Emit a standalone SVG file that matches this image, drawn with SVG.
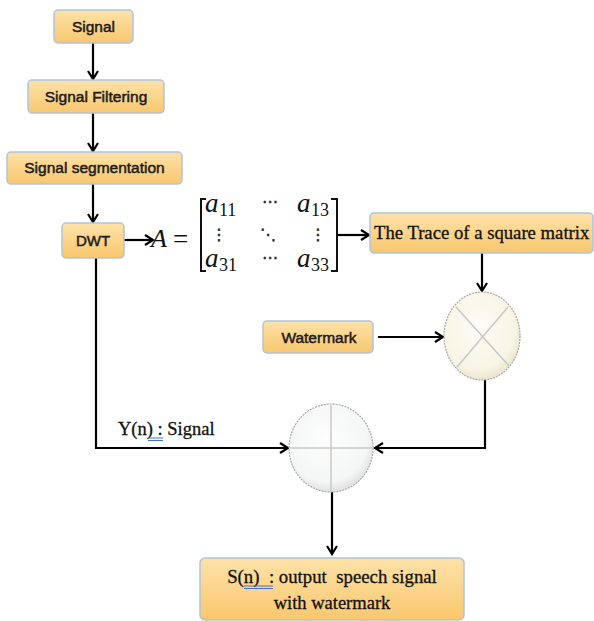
<svg xmlns="http://www.w3.org/2000/svg" width="594" height="621" viewBox="0 0 594 621">
<defs>
<linearGradient id="boxFill" x1="0" y1="0" x2="0" y2="1">
<stop offset="0" stop-color="#FEE2A8"/>
<stop offset="1" stop-color="#F8C76E"/>
</linearGradient>
<radialGradient id="creamFill" cx="0.45" cy="0.4" r="0.6">
<stop offset="0" stop-color="#FDFCF6"/>
<stop offset="0.8" stop-color="#F8F5E6"/>
<stop offset="1" stop-color="#ECE6CC"/>
</radialGradient>
<radialGradient id="greyFill" cx="0.45" cy="0.4" r="0.6">
<stop offset="0" stop-color="#FDFDFD"/>
<stop offset="0.8" stop-color="#F5F6F6"/>
<stop offset="1" stop-color="#E2E2E2"/>
</radialGradient>
<marker id="arr" markerWidth="12" markerHeight="12" refX="10" refY="6" orient="auto" markerUnits="userSpaceOnUse">
<path d="M2,1 L10,6 L2,11" fill="none" stroke="#000" stroke-width="2.2"/>
</marker>
</defs>
<style>
.box{fill:url(#boxFill);stroke:#AFC3E0;stroke-width:1.5}
.sans{font-family:"Liberation Sans",Arial,sans-serif;font-size:15.5px;fill:#1c1c1c;stroke:#1c1c1c;stroke-width:0.5;text-anchor:middle}
.serif{font-family:"Liberation Serif","Times New Roman",serif;fill:#111;stroke:#111;stroke-width:0.3}
.math{font-family:"Liberation Serif","DejaVu Serif",serif;font-style:italic;fill:#111}
.sub{font-family:"Liberation Serif","DejaVu Serif",serif;font-size:18px;fill:#111}
.dots{font-family:"DejaVu Sans",sans-serif;font-size:16px;fill:#222;stroke:#222;stroke-width:0.4;text-anchor:middle}
.conn{fill:none;stroke:#000;stroke-width:2.2}
.guide{stroke:#C8C8C4;stroke-width:1.5}
.uline{stroke:#4472C4;stroke-width:1}
</style>

<g id="connectors">
<line class="conn" x1="93" y1="43" x2="93" y2="79" marker-end="url(#arr)"/>
<line class="conn" x1="93" y1="113" x2="93" y2="151" marker-end="url(#arr)"/>
<line class="conn" x1="93" y1="184" x2="93" y2="222" marker-end="url(#arr)"/>
<line class="conn" x1="124" y1="240" x2="153" y2="240" marker-end="url(#arr)"/>
<line class="conn" x1="337" y1="235" x2="369" y2="235" marker-end="url(#arr)"/>
<line class="conn" x1="482" y1="253" x2="482" y2="291" marker-end="url(#arr)"/>
<line class="conn" x1="378" y1="337" x2="443" y2="337" marker-end="url(#arr)"/>
<path class="conn" d="M96,258 V448 H288" marker-end="url(#arr)"/>
<path class="conn" d="M485,380 V448 H375" marker-end="url(#arr)"/>
<line class="conn" x1="332" y1="492" x2="332" y2="554" marker-end="url(#arr)"/>
</g>

<g id="signal">
<rect class="box" x="54" y="10" width="79" height="33" rx="4"/>
<text class="sans" x="93.5" y="32">Signal</text>
</g>
<g id="signal-filtering">
<rect class="box" x="28" y="80" width="136" height="33" rx="4"/>
<text class="sans" x="96" y="102">Signal Filtering</text>
</g>
<g id="signal-segmentation">
<rect class="box" x="7" y="152" width="175" height="32" rx="4"/>
<text class="sans" x="94.5" y="173">Signal segmentation</text>
</g>
<g id="dwt">
<rect class="box" x="62" y="223" width="62" height="35" rx="4"/>
<text class="sans" x="93" y="246" style="font-size:15px">DWT</text>
</g>

<g id="matrix">
<text class="math" x="151" y="247" style="font-size:26px">A</text>
<text x="173" y="248" style="font-family:'Liberation Serif',serif;font-size:27px;fill:#111">=</text>
<path d="M206,199 H201 V271 H206" fill="none" stroke="#111" stroke-width="2"/>
<path d="M331,199 H337 V271 H331" fill="none" stroke="#111" stroke-width="2"/>
<text class="math" x="205" y="212" style="font-size:27px">a</text>
<text class="sub" x="219" y="216">11</text>
<text class="dots" x="270" y="207">⋯</text>
<text class="math" x="297" y="212" style="font-size:27px">a</text>
<text class="sub" x="311" y="216">13</text>
<text class="dots" x="219" y="240">⋮</text>
<text class="dots" x="268" y="240">⋱</text>
<text class="dots" x="318" y="240">⋮</text>
<text class="math" x="205" y="267" style="font-size:27px">a</text>
<text class="sub" x="219" y="271">31</text>
<text class="dots" x="270" y="263">⋯</text>
<text class="math" x="297" y="267" style="font-size:27px">a</text>
<text class="sub" x="311" y="271">33</text>
</g>

<g id="trace">
<rect class="box" x="370" y="213" width="223" height="40" rx="4"/>
<text class="serif" x="374" y="239" style="font-size:18.7px">The Trace of a square matrix</text>
</g>

<g id="watermark">
<rect class="box" x="263" y="321" width="110" height="32" rx="4"/>
<text class="sans" x="319" y="343">Watermark</text>
</g>

<g id="multiplier">
<ellipse cx="482" cy="336" rx="38" ry="44" fill="url(#creamFill)" stroke="#A8A8A0" stroke-width="1.2" stroke-dasharray="2,1"/>
<line class="guide" x1="456" y1="307" x2="509" y2="366"/>
<line class="guide" x1="508" y1="307" x2="457" y2="367"/>
</g>

<g id="adder">
<ellipse cx="331" cy="448" rx="42" ry="44" fill="url(#greyFill)" stroke="#A8A8A8" stroke-width="1.2" stroke-dasharray="2,1"/>
<line class="guide" x1="290" y1="448" x2="372" y2="448"/>
<line class="guide" x1="331" y1="405" x2="331" y2="491"/>
</g>

<g id="y-label">
<text class="serif" x="118" y="435" style="font-size:18.5px">Y(n) : Signal</text>
<line class="uline" x1="148" y1="438" x2="163" y2="438"/>
<line class="uline" x1="148" y1="440.5" x2="163" y2="440.5"/>
</g>

<g id="output">
<rect class="box" x="200" y="558" width="264" height="62" rx="5"/>
<text class="serif" x="332" y="583" text-anchor="middle" style="font-size:18.8px;white-space:pre" xml:space="preserve">S(n)  : output  speech signal</text>
<text class="serif" x="332" y="609" text-anchor="middle" style="font-size:18.5px">with watermark</text>
<line class="uline" x1="244" y1="586" x2="273" y2="586"/>
<line class="uline" x1="244" y1="588.5" x2="273" y2="588.5"/>
</g>
</svg>
